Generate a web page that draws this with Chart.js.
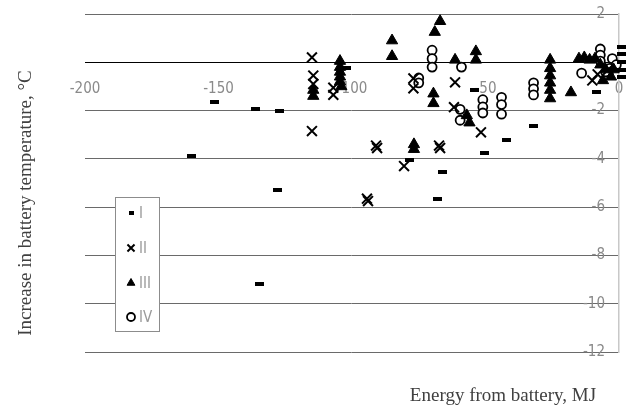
<!DOCTYPE html>
<html>
<head>
<meta charset="utf-8">
<script src="https://cdn.jsdelivr.net/npm/chart.js@4"></script>
<style>
html, body { margin: 0; padding: 0; background: #fff; }
</style>
</head>
<body>
<canvas id="chart" width="629" height="409"></canvas>
<script>
// battery temperature rise vs energy drawn, four groups

const seriesNames = ['I', 'II', 'III', 'IV'];
const xTitle = 'Energy from battery, MJ';
const yTitle = 'Increase in battery temperature, °C';
const xTicks = [-200, -150, -100, -50, 0];
const yTicks = [2, 0, -2, -4, -6, -8, -10, -12];

const s1x = [-160, -151.5, -136, -127, -128, -134.5, -102, -54.3, -32.2, -42, -50.5, -66, -67.8, -78.3, -8.6, 1, 1, 1, 1, 1];
const s1y = [-3.9, -1.65, -1.95, -2.03, -5.3, -9.2, -0.25, -1.16, -2.65, -3.23, -3.77, -4.55, -5.67, -4.05, -1.24, 0.65, 0.35, 0, -0.33, -0.62];

const s2x = [-115, -114.5, -114.5, -115, -107, -107, -77, -77, -61.4, -61.8, -51.7, -91, -90.6, -80.5, -67.4, -67, -94.4, -94, -10, -8, -4];
const s2y = [0.2, -0.55, -0.9, -2.85, -1.05, -1.35, -0.67, -1.08, -0.83, -1.86, -2.9, -3.45, -3.55, -4.3, -3.45, -3.55, -5.65, -5.75, -0.75, -0.5, -0.3];

const s3x = [-114.5, -114.5, -104.5, -104.5, -104.5, -104.5, -104.5, -104, -85, -85, -67, -69, -69.5, -69.5, -61.4, -53.6, -53.6, -57, -56, -76.8, -76.8,
             -25.8, -25.8, -25.8, -25.8, -25.8, -25.8, -18, -15, -13, -11, -9, -7, -5, -6, -3, -2];
const s3y = [-1.15, -1.4, 0.05, -0.2, -0.4, -0.6, -0.8, -1.0, 0.9, 0.25, 1.7, 1.25, -1.3, -1.7, 0.1, 0.45, 0.1, -2.2, -2.5, -3.4, -3.6,
             0.1, -0.25, -0.55, -0.85, -1.15, -1.5, -1.25, 0.15, 0.2, 0.1, 0.15, -0.1, -0.3, -0.75, -0.6, -0.3];

const s4x = [-75, -75, -70, -70, -70, -59, -59.5, -59.5, -51, -51, -51, -44, -44, -44, -32, -32, -32, -14, -7, -7, -7, -2.5, -3.5, -1, -5];
const s4y = [-0.65, -0.85, 0.5, 0.15, -0.2, -0.2, -1.95, -2.4, -1.55, -1.85, -2.1, -1.45, -1.75, -2.15, -0.85, -1.1, -1.35, -0.45, 0.55, 0.3, 0.05, 0.15, -0.25, -0.1, -0.4];

function toPoints(xs, ys) {
    return xs.map((x, i) => ({ x: x, y: ys[i] }));
}

// little black dash used for series I
function dash(w, h) {
    const c = document.createElement('canvas');
    c.width = w; c.height = h;
    const g = c.getContext('2d');
    g.fillStyle = '#000';
    g.fillRect(0, 0, w, h);
    return c;
}

const styles = [
    { pointStyle: dash(9, 4), radius: 5, borderWidth: 0, fill: '#000', legendStyle: dash(5, 4), legendRadius: 3 },
    { pointStyle: 'crossRot', radius: 7, borderWidth: 2, fill: '#000', legendStyle: 'crossRot', legendRadius: 5 },
    { pointStyle: 'triangle', radius: 6.5, borderWidth: 1, fill: '#000', legendStyle: 'triangle', legendRadius: 4.5 },
    { pointStyle: 'circle', radius: 4.5, borderWidth: 1.8, fill: '#fff', legendStyle: 'circle', legendRadius: 4 }
];

const allX = [s1x, s2x, s3x, s4x];
const allY = [s1y, s2y, s3y, s4y];

const datasets = seriesNames.map((name, i) => ({
    label: name,
    data: toPoints(allX[i], allY[i]),
    pointStyle: styles[i].pointStyle,
    pointRadius: styles[i].radius,
    pointBorderWidth: styles[i].borderWidth,
    pointBackgroundColor: styles[i].fill,
    pointBorderColor: '#000',
    showLine: false,
    clip: false
}));

const extras = {
    id: 'extras',
    afterDraw(chart) {
        const ctx = chart.ctx;
        ctx.save();
        ctx.fillStyle = '#404040';
        ctx.font = '19px "Liberation Serif"';
        ctx.textAlign = 'center';
        ctx.textBaseline = 'middle';
        ctx.fillText(xTitle, 503, 396);
        ctx.translate(26, 203);
        ctx.rotate(-Math.PI / 2);
        ctx.fillText(yTitle, 0, 0);
        ctx.restore();

        // legend box
        ctx.save();
        ctx.fillStyle = '#fff';
        ctx.strokeStyle = '#8c8c8c';
        ctx.lineWidth = 1;
        ctx.fillRect(115.5, 197.5, 44, 134);
        ctx.strokeRect(115.5, 197.5, 44, 134);
        const rows = [213, 248, 283, 317];
        ctx.font = '15px "Liberation Sans Narrow", "DejaVu Sans Condensed", sans-serif';
        ctx.textBaseline = 'middle';
        ctx.textAlign = 'left';
        seriesNames.forEach((name, i) => {
            ctx.fillStyle = styles[i].fill;
            ctx.strokeStyle = '#000';
            ctx.lineWidth = styles[i].borderWidth || 1;
            Chart.helpers.drawPoint(ctx, {
                pointStyle: styles[i].legendStyle,
                radius: styles[i].legendRadius,
                rotation: 0,
                borderWidth: styles[i].borderWidth
            }, 131, rows[i]);
            ctx.fillStyle = '#9a9a9a';
            ctx.fillText(name, 139, rows[i] + 1);
        });
        ctx.restore();
    }
};

const ctx = document.getElementById('chart').getContext('2d');
const myChart = new Chart(ctx, {
    type: 'scatter',
    data: { datasets: datasets },
    options: {
        responsive: false,
        animation: false,
        layout: { padding: { left: 85, right: 0, top: 14, bottom: 57 } },
        plugins: {
            legend: { display: false },
            tooltip: { enabled: false }
        },
        scales: {
            x: {
                type: 'linear',
                position: { y: 0 },
                min: -200,
                max: 0,
                afterBuildTicks: (axis) => { axis.ticks = xTicks.map(v => ({ value: v })); },
                afterFit: (axis) => { axis.paddingLeft = 0; axis.paddingRight = 0; },
                grid: { display: false, drawTicks: false },
                border: { color: '#000', width: 1 },
                ticks: {
                    color: '#8a8a8a',
                    padding: 18,
                    maxRotation: 0,
                    font: { family: '"Liberation Sans Narrow", "DejaVu Sans Condensed", sans-serif', size: 15 }
                }
            },
            y: {
                type: 'linear',
                position: 'right',
                min: -12,
                max: 2,
                afterBuildTicks: (axis) => { axis.ticks = yTicks.map(v => ({ value: v })); },
                afterFit: (axis) => { axis.width = 10; axis.paddingTop = 0; axis.paddingBottom = 0; },
                grid: {
                    drawTicks: false,
                    color: (c) => c.tick && c.tick.value === 0 ? '#000' : '#6a6a6a',
                    lineWidth: 1
                },
                border: { color: '#c8c8c8', width: 1.5 },
                ticks: {
                    mirror: true,
                    padding: -14,
                    color: '#8a8a8a',
                    callback: (v) => v === 0 ? '' : v,
                    font: { family: '"Liberation Sans Narrow", "DejaVu Sans Condensed", sans-serif', size: 15 }
                }
            }
        }
    },
    plugins: [extras]
});
</script>
</body>
</html>
